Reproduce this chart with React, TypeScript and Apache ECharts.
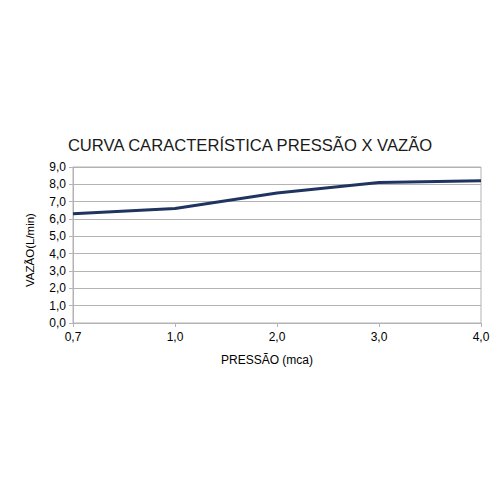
import React, { useEffect, useRef } from "react";
import * as echarts from "echarts";

const categories = ["0,7", "1,0", "2,0", "3,0", "4,0"];
const vazao = [6.3, 6.6, 7.5, 8.1, 8.2];
const title = "CURVA CARACTERÍSTICA PRESSÃO X VAZÃO";
const xName = "PRESSÃO (mca)";
const yName = "VAZÃO(L/min)";

const FONT = "Liberation Sans, Arial, sans-serif";

export default function App() {
  const ref = useRef<HTMLDivElement>(null);
  useEffect(() => {
    const chart = echarts.init(ref.current!, null, { renderer: "svg" });
    chart.setOption({
      animation: false,
      backgroundColor: "#ffffff",
      title: {
        text: title,
        left: "center",
        top: 132,
        textStyle: { fontFamily: FONT, fontSize: 16.6, fontWeight: "normal", color: "#1a1a1a" },
      },
      graphic: [
        {
          type: "text",
          x: 267,
          y: 360,
          style: { text: xName, fontFamily: FONT, fontSize: 12, fill: "#000", align: "center", verticalAlign: "middle" },
        },
        {
          type: "text",
          x: 30,
          y: 250,
          rotation: Math.PI / 2,
          style: { text: yName, fontFamily: FONT, fontSize: 11.5, fill: "#000", align: "center", verticalAlign: "middle" },
        },
      ],
      grid: {
        left: 73,
        right: 19,
        top: 167,
        bottom: 177,
        show: true,
        borderColor: "#b3b3b3",
        borderWidth: 1,
      },
      xAxis: {
        type: "category",
        data: categories,
        boundaryGap: false,
        axisLine: { lineStyle: { color: "#b3b3b3" } },
        axisTick: { show: true, length: 4, lineStyle: { color: "#b3b3b3" } },
        axisLabel: { fontFamily: FONT, fontSize: 12, color: "#000", margin: 8 },
        splitLine: { show: false },
      },
      yAxis: {
        type: "value",
        min: 0,
        max: 9,
        interval: 1,
        axisLine: { show: true, lineStyle: { color: "#b3b3b3" } },
        axisTick: { show: true, length: 4, lineStyle: { color: "#b3b3b3" } },
        axisLabel: {
          fontFamily: FONT,
          fontSize: 12,
          color: "#000",
          margin: 7,
          formatter: (v: number) => v.toFixed(1).replace(".", ","),
        },
        splitLine: { show: true, lineStyle: { color: "#b3b3b3", width: 1 } },
      },
      series: [
        {
          type: "line",
          data: vazao,
          symbol: "none",
          lineStyle: { color: "#1f3560", width: 3 },
        },
      ],
    });
    return () => chart.dispose();
  }, []);
  return <div ref={ref} style={{ position: "absolute", left: 0, top: 0, width: 500, height: 500 }} />;
}
